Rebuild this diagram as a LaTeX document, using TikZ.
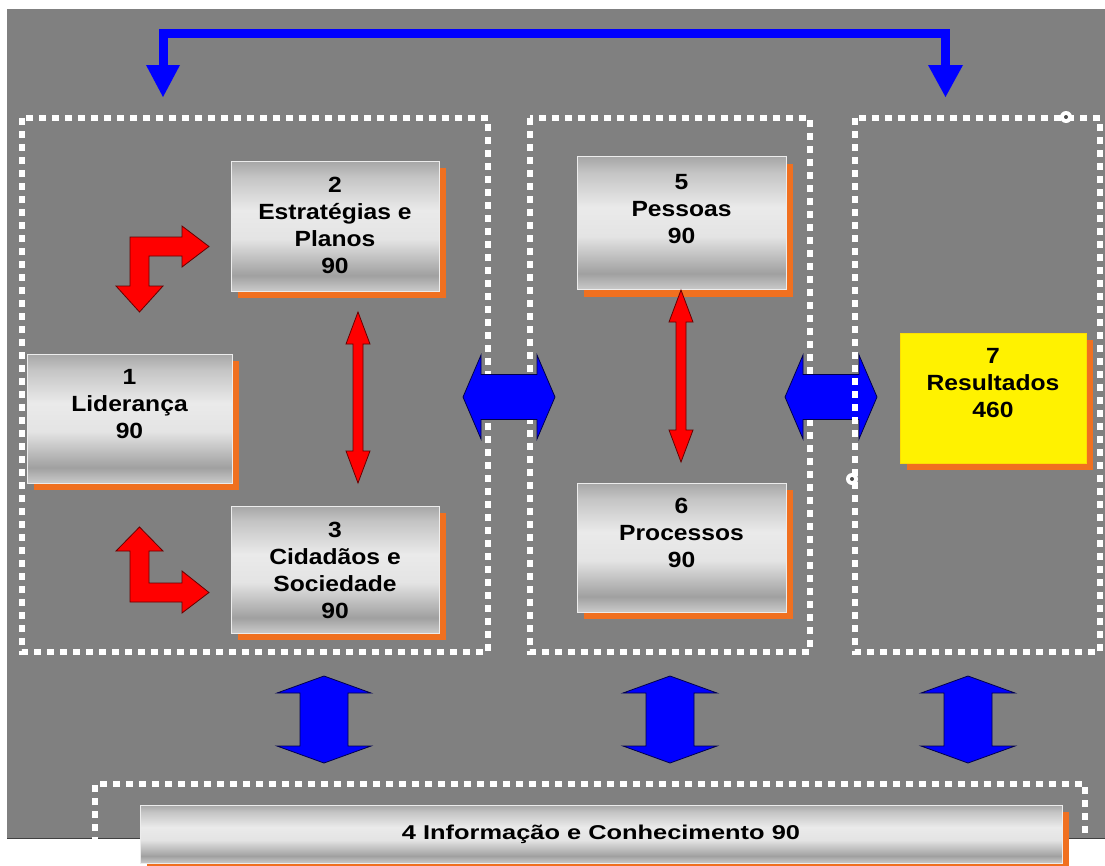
\documentclass[tikz,border=0pt]{standalone}
\usepackage{fontspec}
\setmainfont{Liberation Sans}
\usepackage{graphicx}
\usetikzlibrary{shadows}
\definecolor{bggray}{HTML}{808080}
\definecolor{sorange}{HTML}{F07020}
\definecolor{sv1}{HTML}{A6A6A6}
\definecolor{sv2}{HTML}{C4C4C4}
\definecolor{sv3}{HTML}{EAEAEA}
\definecolor{sv4}{HTML}{E4E4E4}
\definecolor{sv5}{HTML}{A0A0A0}
\definecolor{sv6}{HTML}{CACACA}
\pgfdeclareverticalshading{silverbox}{100bp}{color(0bp)=(sv6); color(25bp)=(sv6); color(31bp)=(sv5); color(45bp)=(sv4); color(56bp)=(sv3); color(69bp)=(sv2); color(75bp)=(sv1); color(100bp)=(sv1)}
\newcommand{\wl}[1]{\scalebox{1.12}[1]{#1}}
\tikzset{
  basebox/.style={line width=0.8pt, inner sep=0pt,
    drop shadow={shadow xshift=7pt, shadow yshift=-7pt, fill=sorange, opacity=1}},
  sbox/.style={basebox, draw=white!85!gray, shading=silverbox},
  ybox/.style={basebox, fill=yellow, draw=yellow!80!orange},
  btxt/.style={font=\fontsize{22}{27}\selectfont\bfseries, align=center, inner sep=0pt, anchor=north, text=black},
  frm/.style={draw=white, line width=6.5pt, dash pattern=on 7pt off 6pt},
  barrow/.style={fill=blue, draw=black!70!blue, line width=0.8pt, line join=miter},
  rarrow/.style={fill=red, draw=black!60!red, line width=0.8pt, line join=miter},
  handle/.style={circle, fill=white, minimum size=12pt, inner sep=0pt},
}
\newcommand{\dblV}[7]{% style, cx, ytop, ybot, head half, shaft half, head length
  \draw[#1] (#2,#3) -- (#2+#5,#3+#7) -- (#2+#6,#3+#7) -- (#2+#6,#4-#7) -- (#2+#5,#4-#7) -- (#2,#4)
    -- (#2-#5,#4-#7) -- (#2-#6,#4-#7) -- (#2-#6,#3+#7) -- (#2-#5,#3+#7) -- cycle;}
\newcommand{\dblH}[7]{% style, cy, xleft, xright, head half, shaft half, head length
  \draw[#1] (#3,#2) -- (#3+#7,#2-#5) -- (#3+#7,#2-#6) -- (#4-#7,#2-#6) -- (#4-#7,#2-#5) -- (#4,#2)
    -- (#4-#7,#2+#5) -- (#4-#7,#2+#6) -- (#3+#7,#2+#6) -- (#3+#7,#2+#5) -- cycle;}
\begin{document}
\begin{tikzpicture}[x=1pt, y=-1pt]
\useasboundingbox (0,0) rectangle (1105,865);
\fill[white] (0,0) rectangle (1105,865);
\fill[bggray] (7,9) rectangle (1105,838);
\draw[gray!50!black, line width=1pt] (7,838) -- (1105,838);

% top blue connector
\coordinate (tl) at (163,66);
\coordinate (tr) at (945,66);
\draw[blue, line width=9pt, line join=miter] (tl) |- (945,33) -- (tr);
\fill[blue] (146,65) -- (180,65) -- (163,97) -- cycle;
\fill[blue] (928,65) -- (963,65) -- (945.5,97) -- cycle;

% frames (behind arrows)
\draw[frm] (22,118) rectangle (488,652);
\draw[frm] (530,118) rectangle (810,652);

% boxes
\node[sbox, minimum width=205pt, minimum height=129pt] (b1) at (129.5,418.5) {};
\node[sbox, minimum width=208pt, minimum height=130pt] (b2) at (335,226) {};
\node[sbox, minimum width=208pt, minimum height=127pt] (b3) at (335,569.5) {};
\node[sbox, minimum width=209pt, minimum height=133pt] (b5) at (681.5,223) {};
\node[sbox, minimum width=209pt, minimum height=129pt] (b6) at (681.5,547.5) {};
\node[ybox, minimum width=186pt, minimum height=130pt] (b7) at (993,398) {};

\node[btxt] (t1) at ([yshift=-16pt]b1.north) {\wl{1}\\\wl{Liderança}\\\wl{90}};
\node[btxt] (t2) at ([yshift=-16pt]b2.north) {\wl{2}\\\wl{Estratégias e}\\\wl{Planos}\\\wl{90}};
\node[btxt] (t3) at ([yshift=-16pt]b3.north) {\wl{3}\\\wl{Cidadãos e}\\\wl{Sociedade}\\\wl{90}};
\node[btxt] (t5) at ([yshift=-18pt]b5.north) {\wl{5}\\\wl{Pessoas}\\\wl{90}};
\node[btxt] (t6) at ([yshift=-15pt]b6.north) {\wl{6}\\\wl{Processos}\\\wl{90}};
\node[btxt] (t7) at ([yshift=-16pt]b7.north) {\wl{7}\\\wl{Resultados}\\\wl{460}};

% red arrows
\dblV{rarrow}{358}{312}{483}{12}{5}{32}
\dblV{rarrow}{681}{290}{462}{12}{5}{32}
\draw[rarrow] (130,237) -- (182,237) -- (182,226) -- (209,246.5) -- (182,267) -- (182,256) -- (149,256)
  -- (149,286) -- (163,286) -- (139.5,312) -- (116,286) -- (130,286) -- cycle;
\draw[rarrow] (139.5,527) -- (163,551) -- (149,551) -- (149,583) -- (182,583) -- (182,571) -- (209,592.5)
  -- (182,613) -- (182,602) -- (130,602) -- (130,551) -- (116,551) -- cycle;

% blue horizontal arrows
\dblH{barrow}{397}{463}{555}{42}{22.5}{18}
\dblH{barrow}{397}{785}{877}{42}{22.5}{18}

% right frame (above arrow)
\draw[frm] (855,118) rectangle (1100,652);
\node[handle] (h1) at (1066,117) {};
\fill[gray!60!black] (h1) circle (2pt);
\node[handle] (h2) at (852,479) {};
\fill[gray!60!black] (h2) circle (2pt);

% blue vertical arrows
\dblV{barrow}{324}{676}{763}{47}{24}{17}
\dblV{barrow}{670}{676}{763}{47}{24}{17}
\dblV{barrow}{968}{676}{763}{47}{24}{17}

% bottom frame and box
\draw[frm] (95,870) |- (1085,784) -- (1085,870);
\node[sbox, minimum width=922pt, minimum height=58pt,
  font=\fontsize{20}{24}\selectfont\bfseries] (b4) at (601,834) {\scalebox{1.27}[1]{4 Informação e Conhecimento 90}};
\end{tikzpicture}
\end{document}
